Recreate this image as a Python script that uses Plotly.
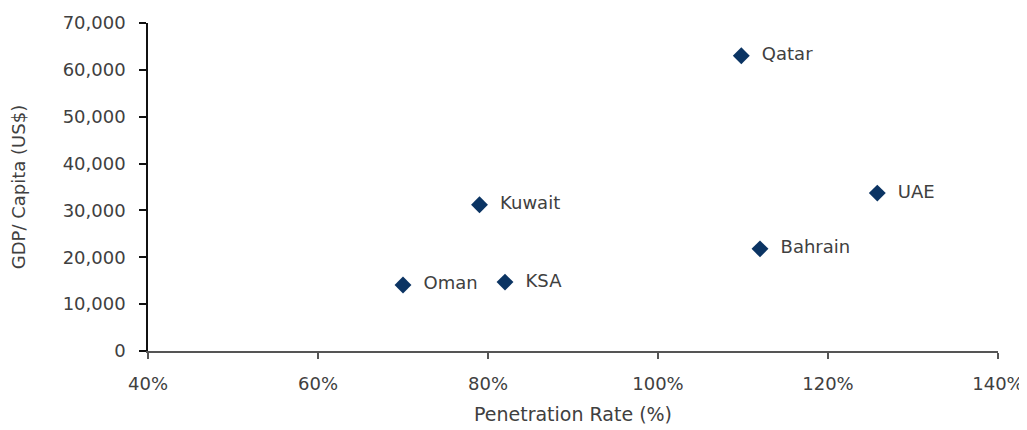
import plotly.graph_objects as go

countries = ["Qatar", "UAE", "Bahrain", "Kuwait", "KSA", "Oman"]
penetration = [1.098, 1.258, 1.12, 0.79, 0.82, 0.70]
gdp_per_capita = [63000, 33700, 21800, 31200, 14700, 14100]

x_tickvals = [0.4, 0.6, 0.8, 1.0, 1.2, 1.4]
x_ticktext = ["40%", "60%", "80%", "100%", "120%", "140%"]
y_tickvals = [0, 10000, 20000, 30000, 40000, 50000, 60000, 70000]
y_ticktext = ["0", "10,000", "20,000", "30,000", "40,000", "50,000", "60,000", "70,000"]

FONT = "DejaVu Sans"
TXT = "#404040"

# the page body adds an 8px offset; the figure is sized/margined to compensate
fig = go.Figure()
fig.add_trace(go.Scatter(
    x=penetration, y=gdp_per_capita, mode="markers+text",
    text=["  " + c for c in countries], textposition="middle right",
    textfont=dict(family=FONT, size=18, color=TXT),
    marker=dict(symbol="diamond", size=13, color="#0b3463"),
    hoverinfo="skip", showlegend=False, cliponaxis=False,
))

fig.update_layout(
    width=1019, height=422,
    margin=dict(l=140, r=29, t=15, b=79),
    paper_bgcolor="white", plot_bgcolor="white",
    font=dict(family=FONT, size=16, color=TXT),
)
fig.update_xaxes(
    range=[0.4, 1.4], tickvals=x_tickvals, ticktext=x_ticktext, automargin=False,
    showgrid=False, zeroline=False, showline=True, linecolor="#555555", linewidth=1.5,
    ticks="outside", ticklen=6, tickcolor="#555555", tickwidth=1.5, ticklabelstandoff=10,
    tickfont=dict(family=FONT, size=18, color=TXT),
    title=dict(text="Penetration Rate (%)", font=dict(family=FONT, size=19, color=TXT), standoff=14),
)
fig.update_yaxes(
    range=[0, 70000], tickvals=y_tickvals, ticktext=y_ticktext, automargin=False,
    showgrid=False, zeroline=False, showline=True, linecolor="#111111", linewidth=1.5,
    ticks="outside", ticklen=7, tickcolor="#111111", tickwidth=1.5, ticklabelstandoff=10,
    tickfont=dict(family=FONT, size=18, color=TXT),
    title=dict(text="GDP/ Capita (US$)", font=dict(family=FONT, size=18, color=TXT), standoff=38),
)
fig.write_html("out.html")
